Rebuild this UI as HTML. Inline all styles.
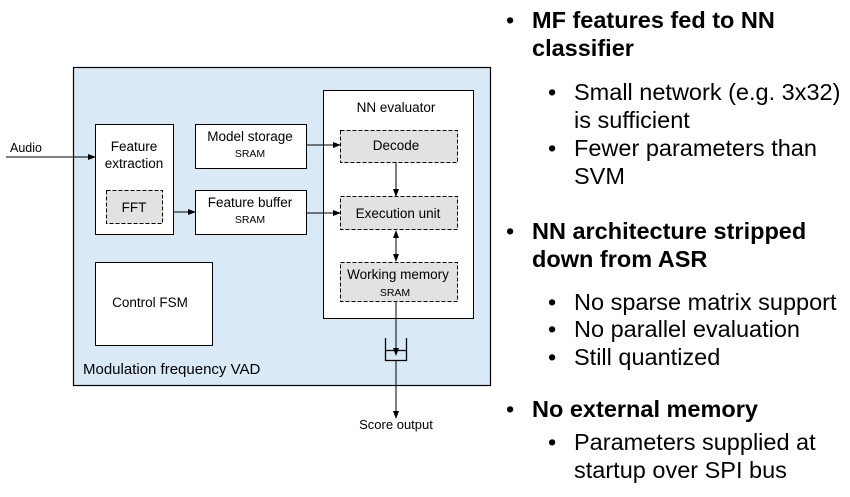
<!DOCTYPE html>
<html><head><meta charset="utf-8"><style>
body{margin:0;width:850px;height:497px;background:#fff;position:relative;overflow:hidden;font-family:"Liberation Sans",Arial,sans-serif;}
.t{position:absolute;white-space:nowrap;font-size:23.5px;line-height:28px;color:#000}
.b{font-weight:bold}
</style></head><body>
<svg width="850" height="497" style="position:absolute;left:0;top:0" font-family="Liberation Sans, Arial, sans-serif">
<defs><marker id="a" markerWidth="8" markerHeight="6" refX="7" refY="3" orient="auto"><path d="M0,0L8,3L0,6z" fill="#000"/></marker>
<marker id="s" markerWidth="8" markerHeight="6" refX="1" refY="3" orient="auto"><path d="M8,0L0,3L8,6z" fill="#000"/></marker></defs>
<rect x="73.5" y="67.5" width="417" height="318" fill="#d9e9f6" stroke="#000" stroke-width="1.2"/>
<rect x="95.5" y="124.5" width="78" height="110" fill="#fff" stroke="#000"/>
<rect x="106.5" y="190.5" width="56" height="33" fill="#e2e2e2" stroke="#000" stroke-dasharray="4,2"/>
<rect x="195.5" y="124.5" width="111" height="44" fill="#fff" stroke="#000"/>
<rect x="195.5" y="190.5" width="111" height="44" fill="#fff" stroke="#000"/>
<rect x="95.5" y="262.5" width="117" height="83" fill="#fff" stroke="#000"/>
<rect x="323.5" y="90.5" width="150" height="228" fill="#fff" stroke="#000"/>
<rect x="340.5" y="130.5" width="117" height="32" fill="#e2e2e2" stroke="#000" stroke-dasharray="4,2"/>
<rect x="340.5" y="196.5" width="117" height="33" fill="#e2e2e2" stroke="#000" stroke-dasharray="4,2"/>
<rect x="340.5" y="262.5" width="117" height="39" fill="#e2e2e2" stroke="#000" stroke-dasharray="4,2"/>
<line x1="6" y1="157" x2="95" y2="157" stroke="#000" marker-end="url(#a)"/>
<line x1="173" y1="212" x2="195" y2="212" stroke="#000" marker-end="url(#a)"/>
<line x1="306" y1="145" x2="340" y2="145" stroke="#000" marker-end="url(#a)"/>
<line x1="306" y1="213" x2="340" y2="213" stroke="#000" marker-end="url(#a)"/>
<line x1="396" y1="162" x2="396" y2="196" stroke="#000" marker-end="url(#a)"/>
<line x1="396" y1="231" x2="396" y2="261" stroke="#000" marker-start="url(#s)" marker-end="url(#a)"/>
<line x1="396" y1="301" x2="396" y2="355" stroke="#000" marker-end="url(#a)"/>
<path d="M385.5,338V360.5H406.5V338M385.5,350.5H406.5" fill="none" stroke="#000" stroke-width="1.3"/>
<line x1="396" y1="360" x2="396" y2="418" stroke="#000" marker-end="url(#a)"/>
<g font-size="13.5" fill="#000">
<text x="10" y="152" font-size="12.5">Audio</text>
<text x="134" y="151" text-anchor="middle">Feature</text>
<text x="134" y="168" text-anchor="middle">extraction</text>
<text x="134" y="212" text-anchor="middle">FFT</text>
<text x="250" y="141" text-anchor="middle">Model storage</text>
<text x="250" y="157" text-anchor="middle" font-size="10.5">SRAM</text>
<text x="250" y="207" text-anchor="middle">Feature buffer</text>
<text x="250" y="223" text-anchor="middle" font-size="10.5">SRAM</text>
<text x="150" y="307" text-anchor="middle">Control FSM</text>
<text x="396" y="112" text-anchor="middle">NN evaluator</text>
<text x="396" y="150" text-anchor="middle">Decode</text>
<text x="398" y="218" text-anchor="middle">Execution unit</text>
<text x="398" y="279" text-anchor="middle">Working memory</text>
<text x="395" y="296" text-anchor="middle" font-size="10.5">SRAM</text>
<text x="83" y="374" font-size="15">Modulation frequency VAD</text>
<text x="396" y="429" text-anchor="middle" font-size="13">Score output</text>
</g>
</svg>
<div class="t" style="left:506px;top:6px">•</div><div class="t b" style="left:532px;top:6px">MF features fed to NN</div>
<div class="t b" style="left:532px;top:34px">classifier</div>
<div class="t" style="left:548px;top:78px">•</div><div class="t" style="left:574px;top:78px">Small network (e.g. 3x32)</div>
<div class="t" style="left:574px;top:106px">is sufficient</div>
<div class="t" style="left:548px;top:134px">•</div><div class="t" style="left:574px;top:134px">Fewer parameters than</div>
<div class="t" style="left:574px;top:162px">SVM</div>
<div class="t" style="left:506px;top:217px">•</div><div class="t b" style="left:532px;top:217px">NN architecture stripped</div>
<div class="t b" style="left:532px;top:245px">down from ASR</div>
<div class="t" style="left:548px;top:288px">•</div><div class="t" style="left:574px;top:288px">No sparse matrix support</div>
<div class="t" style="left:548px;top:315px">•</div><div class="t" style="left:574px;top:315px">No parallel evaluation</div>
<div class="t" style="left:548px;top:343px">•</div><div class="t" style="left:574px;top:343px">Still quantized</div>
<div class="t" style="left:506px;top:395px">•</div><div class="t b" style="left:532px;top:395px">No external memory</div>
<div class="t" style="left:548px;top:428px">•</div><div class="t" style="left:574px;top:428px">Parameters supplied at</div>
<div class="t" style="left:574px;top:456px">startup over SPI bus</div>
</body></html>
